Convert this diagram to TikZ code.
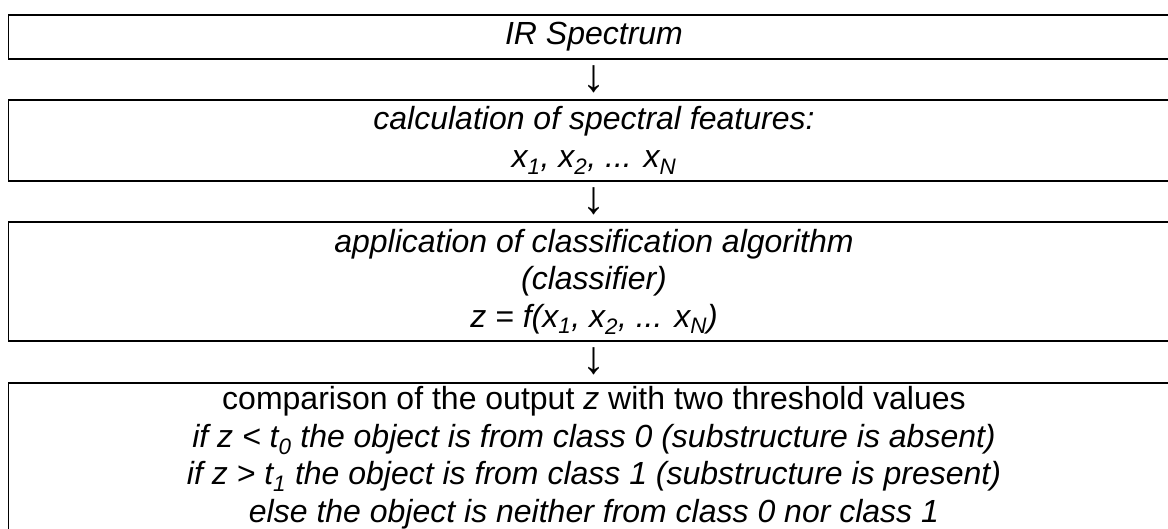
\documentclass[tikz,border=0pt]{standalone}
\usepackage{fontspec}
\setmainfont{Liberation Sans}
\newfontfamily\arrowfont{Liberation Serif}
\begin{document}
\begin{tikzpicture}[x=1pt,y=-1pt,
  box/.style={draw=black, line width=1.6pt, minimum width=1171pt, inner sep=0pt,
    align=center, font=\itshape\fontsize{32}{37.5}\selectfont},
  downglyph/.style={inner sep=0pt, font=\arrowfont\fontsize{46}{46}\selectfont}]
\fill[white] (0,0) rectangle (1168,529);
\clip (0,0) rectangle (1168,529);
\node[box, minimum height=44pt] (b1) at (594,37) {IR Spectrum};
\node[downglyph] (a1) at (594,79.5) {↓};
\node[box, minimum height=81pt] (b2) at (594,140.5)
  {calculation of spectral features:\\
   x\textsubscript{1}, x\textsubscript{2}, ... x\textsubscript{N}};
\node[downglyph] (a2) at (594,201.5) {↓};
\node[box, minimum height=119pt] (b3) at (594,281.5)
  {application of classification algorithm\\
   (classifier)\\
   z = f(x\textsubscript{1}, x\textsubscript{2}, ... x\textsubscript{N})};
\node[downglyph] (a3) at (594,361.5) {↓};
\node[box, minimum height=150pt, anchor=north] (b4) at (594,382)
  {\upshape comparison of the output \textit{z} with two threshold values\\
   if z < t\textsubscript{0} the object is from class 0 (substructure is absent)\\
   if z > t\textsubscript{1} the object is from class 1 (substructure is present)\\
   else the object is neither from class 0 nor class 1};
\end{tikzpicture}
\end{document}
